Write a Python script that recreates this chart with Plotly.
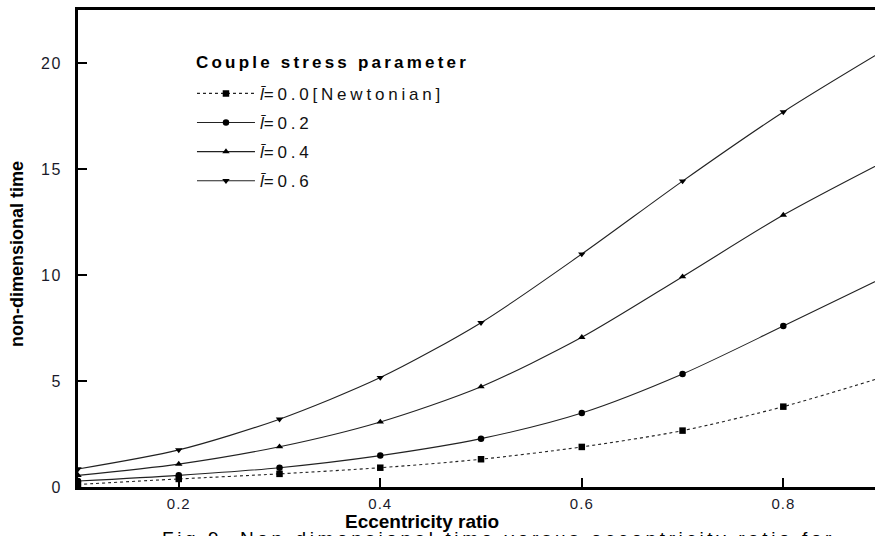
import plotly.graph_objects as go

# Data
ecc = [0.1, 0.2, 0.3, 0.4, 0.5, 0.6, 0.7, 0.8, 0.9]
t_l00 = [0.12, 0.38, 0.62, 0.91, 1.31, 1.89, 2.66, 3.79, 5.2]
t_l02 = [0.28, 0.55, 0.91, 1.48, 2.28, 3.49, 5.33, 7.59, 9.9]
t_l04 = [0.55, 1.08, 1.9, 3.07, 4.73, 7.06, 9.92, 12.83, 15.35]
t_l06 = [0.85, 1.75, 3.2, 5.16, 7.75, 10.99, 14.43, 17.69, 20.6]

names = ["l\u0304=0.0[Newtonian]", "l\u0304=0.2", "l\u0304=0.4", "l\u0304=0.6"]
series = [t_l00, t_l02, t_l04, t_l06]
symbols = ["square", "circle", "triangle-up", "triangle-down"]
dashes = ["dot", "solid", "solid", "solid"]
xticks = [0.2, 0.4, 0.6, 0.8]
yticks = [0, 5, 10, 15, 20]

FONT = "Liberation Sans, Arial, sans-serif"

def spaced(s, px):
    return f'<span style="letter-spacing:{px}px">{s}</span>'

def legend_label(n):
    l, rest = n[:2], n[2:]
    return f'<i>{l}</i>' + spaced(rest, 3.8)

fig = go.Figure()
for i, (n, ys) in enumerate(zip(names, series)):
    fig.add_trace(go.Scatter(
        x=ecc, y=ys, mode="lines+markers", name=legend_label(n),
        legendgroup=f"g{i}",
        line=dict(color="#222222", width=1.1, dash=dashes[i], shape="spline", smoothing=0.8),
        marker=dict(symbol=symbols[i], size=6.5, color="#000000"),
    ))

fig.update_layout(
    width=875, height=536,
    margin=dict(l=78, r=0, t=10, b=49),
    paper_bgcolor="white", plot_bgcolor="white",
    font=dict(family=FONT, color="#111111"),
    showlegend=True,
    legend=dict(
        x=0.143, y=0.862, xanchor="left", yanchor="top",
        bgcolor="rgba(0,0,0,0)",
        font=dict(size=17, family=FONT, color="#111111"),
        tracegroupgap=4,
        itemwidth=58,
    ),
    xaxis=dict(
        range=[0.1, 0.891], showgrid=False, zeroline=False,
        showline=True, linecolor="#000000", linewidth=3, mirror=True,
        ticks="inside", ticklen=9, tickwidth=2, tickcolor="#000000",
        tickvals=xticks, ticktext=[spaced(f"{v:.1f}", 1) for v in xticks],
        tickfont=dict(size=15, family=FONT, color="#1a1a2a"),
        ticklabelstandoff=1,
    ),
    yaxis=dict(
        range=[0, 22.5], showgrid=False, zeroline=False,
        showline=True, linecolor="#000000", linewidth=3,
        ticks="inside", ticklen=9, tickwidth=2, tickcolor="#000000",
        tickvals=yticks, ticktext=[spaced(str(v), 1.5) for v in yticks],
        tickfont=dict(size=16, family=FONT, color="#1a1a2a"),
        ticklabelstandoff=10,
    ),
    annotations=[
        dict(text="<b>" + spaced("Couple stress parameter", 3.2) + "</b>",
             xref="paper", yref="paper", x=0.146, y=0.889,
             xanchor="left", yanchor="middle", showarrow=False,
             font=dict(size=17, family=FONT, color="#000000")),
        dict(text="<b>Eccentricity ratio</b>", xref="paper", yref="paper",
             x=0.4316, y=-0.0713, xanchor="center", yanchor="middle",
             showarrow=False, font=dict(size=19, family=FONT, color="#000000")),
        dict(text="<b>non-dimensional time</b>", xref="paper", yref="paper",
             x=-0.0765, y=0.4885, xanchor="center", yanchor="middle", textangle=-90,
             showarrow=False, font=dict(size=18, family=FONT, color="#000000")),
        dict(text=spaced("Fig.9. Non-dimensional time versus eccentricity ratio for", 3.6),
             xref="paper", yref="paper", x=0.1029, y=-0.0818,
             xanchor="left", yanchor="top", showarrow=False,
             font=dict(size=19, family=FONT, color="#000000")),
    ],
)

fig.write_html("out.html")
